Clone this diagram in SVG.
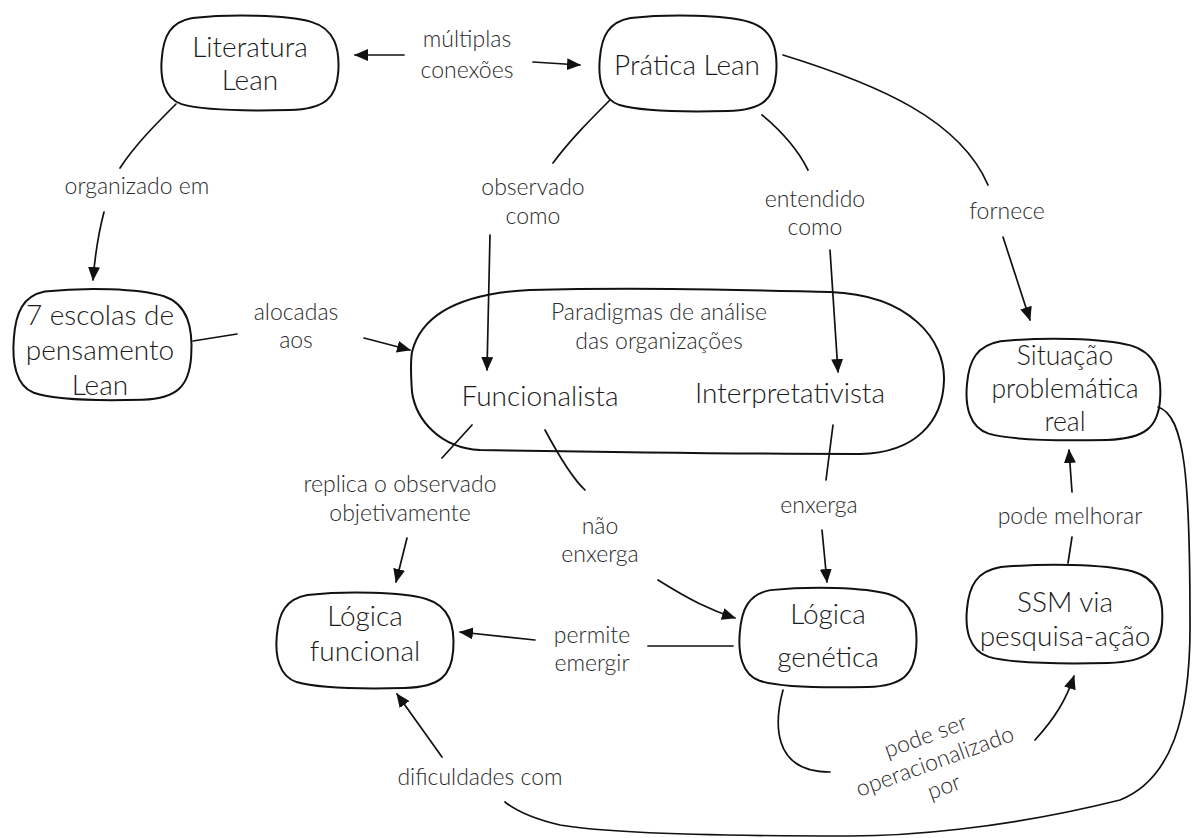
<svg xmlns="http://www.w3.org/2000/svg" width="1192" height="838" viewBox="0 0 1192 838">
  <style>
    .blob { fill: #ffffff; stroke: #111; stroke-width: 2; stroke-linejoin: round; }
    .edge { fill: none; stroke: #111; stroke-width: 1.7; stroke-linecap: round; }
    .arrow { marker-end: url(#head); }
    .node-text { font-family: "Lato", "Liberation Sans", Arial, sans-serif; font-weight: 300; font-size: 28px; fill: #1a1a1a; text-anchor: middle; }
    .node-text.tight { font-size: 26.5px; }
    .label { font-family: "Lato", "Liberation Sans", Arial, sans-serif; font-weight: 300; font-size: 23px; fill: #2a2a2a; text-anchor: middle; }
  </style>
  <defs>
    <marker id="head" viewBox="0 0 14 12" refX="13" refY="6" markerWidth="14" markerHeight="12" markerUnits="userSpaceOnUse" orient="auto">
      <path d="M0,0 L14,6 L0,12 Z" fill="#111"/>
    </marker>
    <!-- hand-drawn rounded blob in a 100x100 unit box; stroke keeps its width when scaled -->
    <path id="blob" vector-effect="non-scaling-stroke" d="M18,4 C40,0 70,1 84,8 C97,15 100,35 99,60 C98,85 92,97 72,98 C50,99 25,99 12,92 C2,86 0,65 1,45 C2,22 6,8 18,4 Z"/>
  </defs>

  <rect width="1192" height="838" fill="#ffffff"/>

  <g id="literatura-lean">
    <use href="#blob" class="blob" transform="translate(160 14) scale(1.8 0.98)"/>
    <text class="node-text" x="250" y="57">Literatura</text>
    <text class="node-text" x="250" y="90">Lean</text>
  </g>

  <g id="pratica-lean">
    <use href="#blob" class="blob" transform="translate(598 14) scale(1.8 0.99)"/>
    <text class="node-text" x="687" y="75">Prática Lean</text>
  </g>

  <g id="escolas-lean">
    <use href="#blob" class="blob" transform="translate(12 287) scale(1.81 1.15)"/>
    <text class="node-text" x="100" y="325">7 escolas de</text>
    <text class="node-text" x="100" y="360">pensamento</text>
    <text class="node-text" x="100" y="395">Lean</text>
  </g>

  <g id="paradigmas">
    <path class="blob" d="M412,352 C420,320 452,294 530,290 C640,287 740,290 830,292 C910,295 945,340 944,380 C943,422 915,453 860,454 C740,454 600,452 480,450 C440,448 416,420 412,392 C411,378 410,364 412,352 Z"/>
    <text class="label" x="659" y="320">Paradigmas de análise</text>
    <text class="label" x="659" y="349">das organizações</text>
    <text class="node-text" x="540" y="406">Funcionalista</text>
    <text class="node-text" x="790" y="403">Interpretativista</text>
  </g>

  <g id="situacao">
    <use href="#blob" class="blob" transform="translate(965 337) scale(1.97 1.05)"/>
    <text class="node-text tight" x="1065" y="365">Situação</text>
    <text class="node-text tight" x="1065" y="398">problemática</text>
    <text class="node-text tight" x="1065" y="431">real</text>
  </g>

  <g id="ssm">
    <use href="#blob" class="blob" transform="translate(965 563) scale(1.99 1.02)"/>
    <text class="node-text" x="1065" y="612">SSM via</text>
    <text class="node-text" x="1065" y="646">pesquisa-ação</text>
  </g>

  <g id="logica-funcional">
    <use href="#blob" class="blob" transform="translate(275 591) scale(1.8 0.99)"/>
    <text class="node-text" x="365" y="626">Lógica</text>
    <text class="node-text" x="365" y="661">funcional</text>
  </g>

  <g id="logica-genetica">
    <use href="#blob" class="blob" transform="translate(738 586) scale(1.8 1.03)"/>
    <text class="node-text" x="828" y="624">Lógica</text>
    <text class="node-text" x="828" y="667">genética</text>
  </g>

  <g id="connectors">
    <!-- Literatura <-> Prática -->
    <path class="edge arrow" d="M404,55 L355,55"/>
    <path class="edge arrow" d="M533,62 L580,65"/>
    <!-- Literatura -> 7 escolas -->
    <path class="edge" d="M176,104 C155,125 135,145 120,168"/>
    <path class="edge arrow" d="M104,212 C98,235 95,255 93,280"/>
    <!-- Prática -> Funcionalista -->
    <path class="edge" d="M610,100 C590,120 570,140 553,163"/>
    <path class="edge arrow" d="M490,235 L487,370"/>
    <!-- Prática -> Interpretativista -->
    <path class="edge" d="M762,115 C780,130 798,150 808,170"/>
    <path class="edge arrow" d="M830,250 L838,372"/>
    <!-- Prática -> Situação -->
    <path class="edge" d="M783,55 C880,85 960,120 988,185"/>
    <path class="edge arrow" d="M1003,237 L1030,320"/>
    <!-- 7 escolas -> Paradigmas -->
    <path class="edge" d="M193,341 L237,334"/>
    <path class="edge arrow" d="M364,338 L410,350"/>
    <!-- Funcionalista -> Lógica funcional -->
    <path class="edge" d="M472,425 L442,458"/>
    <path class="edge arrow" d="M407,538 L396,582"/>
    <!-- Funcionalista -> Lógica genética -->
    <path class="edge" d="M545,430 C560,458 572,478 585,490"/>
    <path class="edge arrow" d="M658,580 C690,600 710,610 735,618"/>
    <!-- Interpretativista -> Lógica genética -->
    <path class="edge" d="M833,425 L826,480"/>
    <path class="edge arrow" d="M822,530 L827,582"/>
    <!-- Lógica genética -> Lógica funcional -->
    <path class="edge" d="M733,646 L648,646"/>
    <path class="edge arrow" d="M535,640 L460,632"/>
    <!-- Lógica genética -> SSM -->
    <path class="edge" d="M783,690 C775,720 770,772 830,772"/>
    <path class="edge arrow" d="M1035,740 C1055,718 1066,700 1074,676"/>
    <!-- SSM -> Situação -->
    <path class="edge" d="M1068,563 L1072,537"/>
    <path class="edge arrow" d="M1072,492 L1069,450"/>
    <!-- Situação -> Lógica funcional -->
    <path class="edge" d="M1158,407 C1185,415 1190,480 1190,620 C1191,720 1170,780 1120,800 C1000,830 900,836 850,836 C700,836 600,832 560,825 C530,818 515,810 505,802"/>
    <path class="edge arrow" d="M442,757 L397,694"/>
  </g>

  <g id="edge-labels">
    <text class="label" x="467" y="47">múltiplas</text>
    <text class="label" x="467" y="78">conexões</text>
    <text class="label" x="137" y="194">organizado em</text>
    <text class="label" x="533" y="195">observado</text>
    <text class="label" x="533" y="224">como</text>
    <text class="label" x="815" y="207">entendido</text>
    <text class="label" x="815" y="235">como</text>
    <text class="label" x="1007" y="219">fornece</text>
    <text class="label" x="296" y="320">alocadas</text>
    <text class="label" x="296" y="348">aos</text>
    <text class="label" x="400" y="492">replica o observado</text>
    <text class="label" x="400" y="521">objetivamente</text>
    <text class="label" x="600" y="534">não</text>
    <text class="label" x="600" y="562">enxerga</text>
    <text class="label" x="819" y="513">enxerga</text>
    <text class="label" x="592" y="643">permite</text>
    <text class="label" x="592" y="671">emergir</text>
    <text class="label" x="1070" y="524">pode melhorar</text>
    <text class="label" x="480" y="785">dificuldades com</text>
    <g transform="rotate(-20 935 762)">
      <text class="label" x="935" y="742">pode ser</text>
      <text class="label" x="935" y="769">operacionalizado</text>
      <text class="label" x="935" y="796">por</text>
    </g>
  </g>
</svg>
